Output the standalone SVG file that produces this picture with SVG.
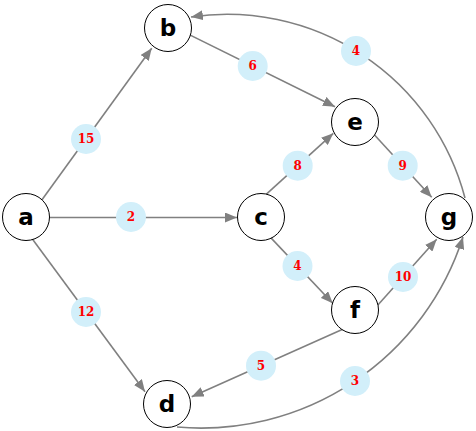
<svg xmlns="http://www.w3.org/2000/svg" width="476" height="431" viewBox="0 0 476 431">
<style>
.edge{fill:none;stroke:#808080;stroke-width:1.6;marker-end:url(#arr)}
.lbl circle{fill:#d2effa}
.lbl text{font-family:"DejaVu Serif",serif;font-weight:bold;font-size:12px;fill:#ff0000;text-anchor:middle}
.node circle{fill:#ffffff;stroke:#000000;stroke-width:1}
.node text{font-family:"DejaVu Sans",sans-serif;font-weight:bold;font-size:23px;fill:#000000;text-anchor:middle}
</style>
<defs>
<marker id="arr" viewBox="0 0 12 10" refX="12" refY="5" markerWidth="12" markerHeight="10" markerUnits="userSpaceOnUse" orient="auto">
<path d="M0,0L12,5L0,10z" fill="#808080"/>
</marker>
</defs>
<rect width="476" height="431" fill="#ffffff"/>
<g id="edges">
<path class="edge" d="M29.5,217L151.7,48.3"/>
<path class="edge" d="M26,217.5L237,217.5"/>
<path class="edge" d="M20,222.2L145,391.7"/>
<path class="edge" d="M168,24.1L335,106.7"/>
<path class="edge" d="M262,198.2L333.3,133.3"/>
<path class="edge" d="M262,228.4L332.7,303.3"/>
<path class="edge" d="M358,117L431.7,197.3"/>
<path class="edge" d="M360,325L436.7,239.3"/>
<path class="edge" d="M350,325.9L191.7,396.7"/>
<path class="edge" d="M465,198A246,246 0 0,0 191,17"/>
<path class="edge" d="M177,427A275,275 0 0,0 463,237"/>
</g>
<g id="labels">
<g class="lbl"><circle cx="86" cy="139" r="15"/><text x="86" y="143.4">15</text></g>
<g class="lbl"><circle cx="131" cy="217" r="15"/><text x="131" y="221.4">2</text></g>
<g class="lbl"><circle cx="86" cy="312" r="15"/><text x="86" y="316.4">12</text></g>
<g class="lbl"><circle cx="252.7" cy="66" r="15"/><text x="252.7" y="70.4">6</text></g>
<g class="lbl"><circle cx="297.7" cy="165.7" r="15"/><text x="297.7" y="170.1">8</text></g>
<g class="lbl"><circle cx="297.5" cy="266" r="15"/><text x="297.5" y="270.4">4</text></g>
<g class="lbl"><circle cx="402.7" cy="165.7" r="15"/><text x="402.7" y="170.1">9</text></g>
<g class="lbl"><circle cx="403" cy="277" r="15"/><text x="403" y="281.4">10</text></g>
<g class="lbl"><circle cx="261" cy="365.7" r="15"/><text x="261" y="370.1">5</text></g>
<g class="lbl"><circle cx="356" cy="51" r="15"/><text x="356" y="55.4">4</text></g>
<g class="lbl"><circle cx="355" cy="381" r="15"/><text x="355" y="385.4">3</text></g>
</g>
<g id="node-a" class="node"><circle cx="26" cy="217" r="23.5"/><text x="26" y="225">a</text></g>
<g id="node-b" class="node"><circle cx="168" cy="28" r="23.5"/><text x="168" y="36">b</text></g>
<g id="node-c" class="node"><circle cx="261" cy="217" r="23.5"/><text x="261" y="225">c</text></g>
<g id="node-d" class="node"><circle cx="167" cy="404" r="23.5"/><text x="167" y="412">d</text></g>
<g id="node-e" class="node"><circle cx="355" cy="122" r="23.5"/><text x="355" y="130">e</text></g>
<g id="node-f" class="node"><circle cx="355" cy="310" r="23.5"/><text x="355" y="318">f</text></g>
<g id="node-g" class="node"><circle cx="449" cy="217" r="23.5"/><text x="449" y="225">g</text></g>
</svg>
